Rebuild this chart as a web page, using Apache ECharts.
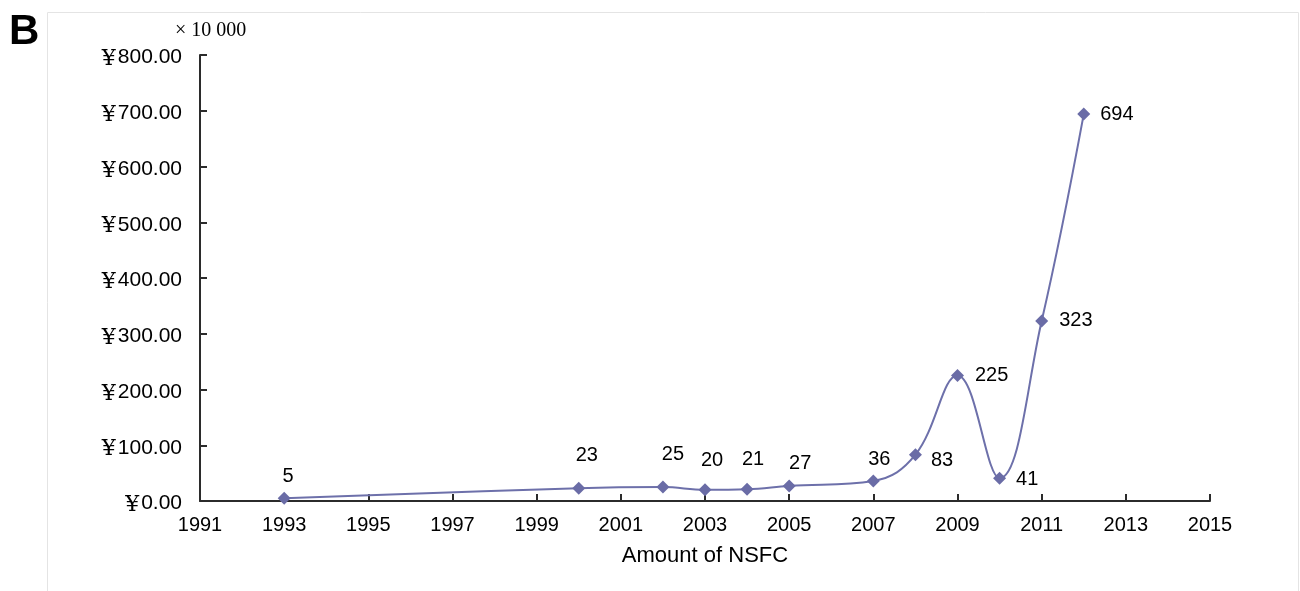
<!DOCTYPE html>
<html>
<head>
<meta charset="utf-8">
<script src="https://cdn.jsdelivr.net/npm/echarts@6/dist/echarts.min.js"></script>
<style>html,body{margin:0;padding:0;background:#fff;}#c{width:1300px;height:591px;}</style>
</head>
<body>
<div id="c"></div>
<script>
// Data
var years = [1993, 2000, 2002, 2003, 2004, 2005, 2007, 2008, 2009, 2010, 2011, 2012];
var amounts = [5, 23, 25, 20, 21, 27, 36, 83, 225, 41, 323, 694];
var xTicks = { min: 1991, max: 2015, step: 2 };
var yTicks = { min: 0, max: 800, step: 100 };
var xAxisName = 'Amount of NSFC';
var unitNote = '\u00d7 10 000';
var panelLabel = 'B';

// Label placement (style only)
var labelPlace = [
  ['top', [4, 0]], ['top', [8, -11]], ['top', [10, -11]], ['top', [7, -8]],
  ['top', [6, -8]], ['top', [11, -1]], ['top', [6, 0]], ['right', [4, 6]],
  ['right', [6, 0]], ['right', [5, 1]], ['right', [6, 0]], ['right', [5, 0]]
];

var seriesData = years.map(function (y, i) {
  return {
    value: [y, amounts[i]],
    label: { position: labelPlace[i][0], offset: labelPlace[i][1] }
  };
});

var chart = echarts.init(document.getElementById('c'));
var axisColor = '#2b2b2b';
chart.setOption({
  animation: false,
  grid: { left: 200, right: 90, top: 55, bottom: 90 },
  graphic: [
    { type: 'rect', shape: { x: 47.5, y: 12.5, width: 1251, height: 620 },
      style: { fill: 'none', stroke: '#e4e4e4', lineWidth: 1 } },
    { type: 'text', left: 9, top: 11,
      style: { text: panelLabel, font: 'bold 42px "Liberation Sans", Arial, sans-serif', fill: '#000' } },
    { type: 'text', left: 175, top: 21,
      style: { text: unitNote, font: '20px "Liberation Serif", "Times New Roman", serif', fill: '#000' } }
  ],
  xAxis: {
    type: 'value',
    min: xTicks.min, max: xTicks.max, interval: xTicks.step,
    name: xAxisName, nameLocation: 'middle', nameGap: 44,
    nameTextStyle: { fontSize: 22, color: '#000', fontFamily: '"Liberation Sans", Arial, sans-serif' },
    splitLine: { show: false },
    axisLine: { lineStyle: { color: axisColor, width: 2 } },
    axisTick: { inside: true, length: 7, lineStyle: { color: axisColor, width: 2 } },
    axisLabel: { fontSize: 20, color: '#000', margin: 14, fontFamily: '"Liberation Sans", Arial, sans-serif',
      formatter: function (v) { return String(v); } }
  },
  yAxis: {
    type: 'value',
    min: yTicks.min, max: yTicks.max, interval: yTicks.step,
    splitLine: { show: false },
    axisLine: { show: true, lineStyle: { color: axisColor, width: 2 } },
    axisTick: { show: true, inside: true, length: 7, lineStyle: { color: axisColor, width: 2 } },
    axisLabel: {
      margin: 18, color: '#000', fontSize: 21, fontFamily: '"Liberation Sans", Arial, sans-serif',
      formatter: function (v) { return '{y|\u00a5}{n|' + v.toFixed(2) + '}'; },
      rich: {
        y: { fontFamily: '"DejaVu Serif", "Liberation Serif", serif', fontSize: 22, color: '#000',
             verticalAlign: 'top', lineHeight: 24, padding: [5.5, 2, 2.5, 0] },
        n: { fontFamily: '"Liberation Sans", Arial, sans-serif', fontSize: 21, color: '#000',
             verticalAlign: 'top', lineHeight: 24, padding: [4, 0, 4, 0] }
      }
    }
  },
  series: [{
    type: 'line',
    data: seriesData,
    smooth: 0.4,
    symbol: 'diamond',
    symbolSize: 13,
    lineStyle: { color: '#6d70aa', width: 2 },
    itemStyle: { color: '#6a6ca6' },
    label: { show: true, fontSize: 20, color: '#000', distance: 5,
      fontFamily: '"Liberation Sans", Arial, sans-serif',
      formatter: function (p) { return p.value[1]; } }
  }]
});
</script>
</body>
</html>
